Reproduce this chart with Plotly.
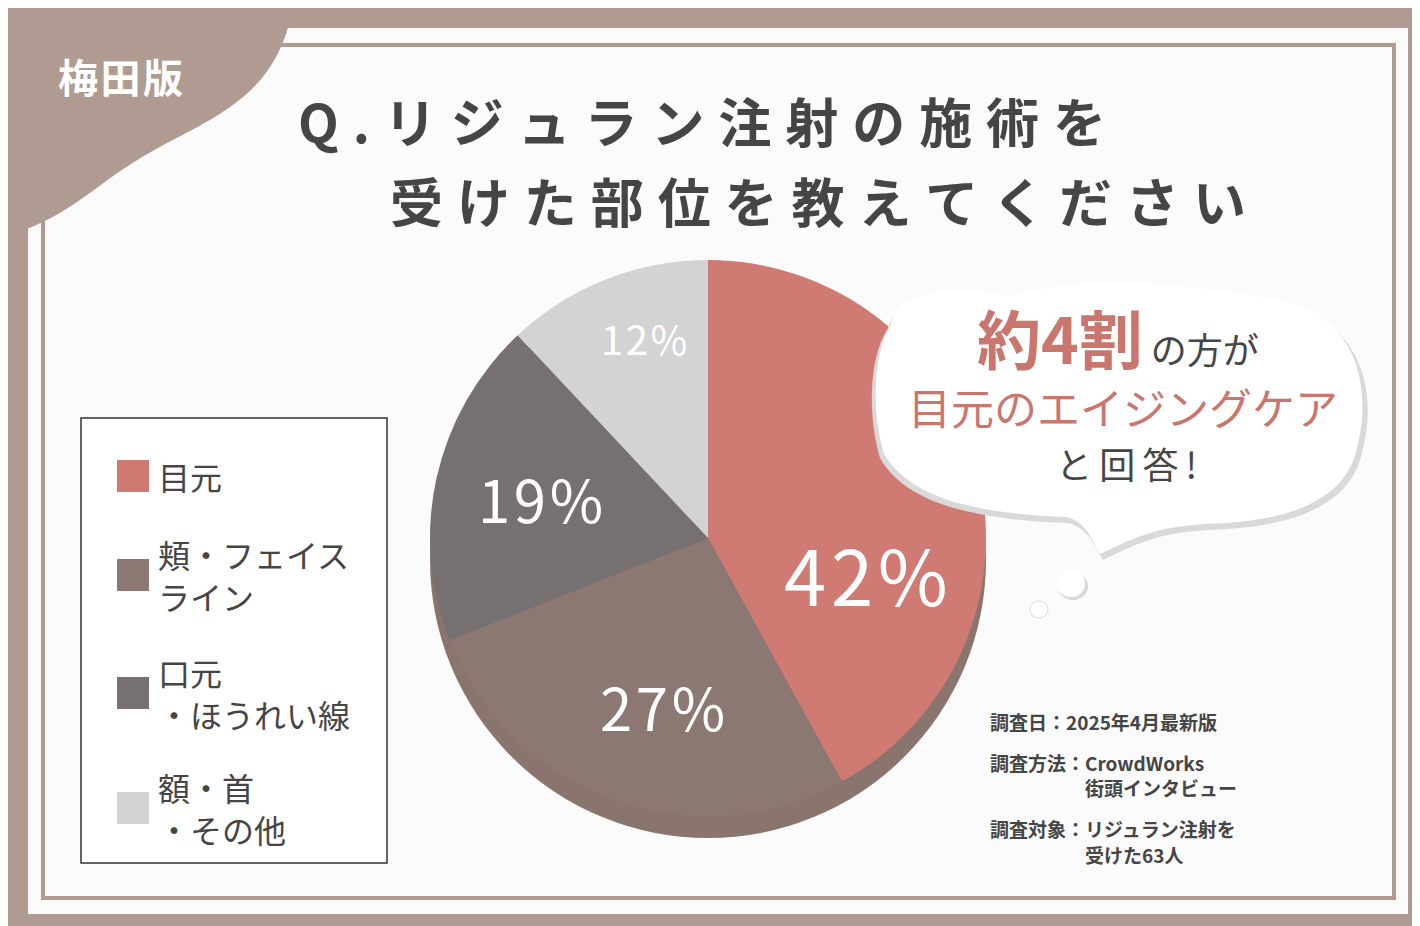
import plotly.graph_objects as go

labels = ["目元", "頬・フェイスライン", "口元・ほうれい線", "額・首・その他"]
values = [42, 27, 19, 12]
colors = ["#cf7a73", "#8c7873", "#767170", "#d3d3d3"]
legend_text = ["目元", "頬・フェイス<br>ライン", "口元<br>・ほうれい線", "額・首<br>・その他"]
pct_text = ["42%", "27%", "19%", "12%"]

W, H = 1420, 926
BROWN = "#b09b92"
DARK = "#454545"
FONT = "Noto Sans CJK JP"


def spaced(s, sp="\u2009"):
    return sp.join(list(s))


fig = go.Figure()

# pie (domain in paper fractions from pixel box)
cx, cy, r = 700, 530, 278
fig.add_trace(go.Pie(
    values=values, labels=labels, sort=False, direction="clockwise", rotation=0,
    marker=dict(colors=colors, line=dict(width=0)), textinfo="none", hoverinfo="label+percent",
    domain=dict(x=[(cx - r) / W, (cx + r) / W], y=[1 - (cy + r) / H, 1 - (cy - r) / H]),
    showlegend=False,
))
# hidden scatter to fix axes
fig.add_trace(go.Scatter(x=[0, W], y=[0, H], mode="markers", marker=dict(opacity=0),
                         showlegend=False, hoverinfo="skip"))

shapes = [
    dict(type="rect", x0=0, y0=0, x1=W, y1=H, fillcolor=BROWN, line_width=0, layer="below"),
    dict(type="rect", x0=20, y0=20, x1=1400, y1=906, fillcolor="#fbfbfb", line_width=0, layer="below"),
    dict(type="rect", x0=35, y0=37, x1=1386, y1=890, line=dict(color=BROWN, width=4), layer="below"),
    # pie 3d shadow
    dict(type="circle", x0=cx - r, y0=cy - r + 22, x1=cx + r, y1=cy + r + 22,
         fillcolor="#8a756e", line_width=0, layer="below"),
    # top-left blob
    dict(type="path", path="M 0,0 L 285,0 C 268,85 215,105 150,140 C 85,175 70,205 0,228 Z",
         fillcolor=BROWN, line_width=0),
    # legend box
    dict(type="rect", x0=73, y0=410, x1=379, y1=855, fillcolor="white",
         line=dict(color="#333", width=1.5), layer="below"),
    # speech bubble shadow + body
    dict(type="path", path="M 880,320 C 890,280 960,285 1000,292 C 1080,270 1200,280 1290,300 "
         "C 1350,320 1370,380 1355,440 C 1345,500 1280,520 1200,522 C 1150,525 1130,535 1095,552 "
         "C 1085,535 1080,520 1060,515 C 980,512 900,500 872,450 C 860,410 860,350 880,320 Z",
         fillcolor="#d9d9d9", line_width=0),
    dict(type="path", path="M 882,318 C 892,276 960,280 1000,288 C 1080,266 1200,276 1288,296 "
         "C 1346,316 1364,376 1350,436 C 1340,494 1278,514 1198,516 C 1148,519 1128,529 1092,546 "
         "C 1082,529 1078,514 1058,509 C 980,506 904,494 876,446 C 864,406 864,350 882,318 Z",
         fillcolor="white", line_width=0),
    dict(type="circle", x0=1050, y0=565, x1=1080, y1=592, fillcolor="#d9d9d9", line_width=0),
    dict(type="circle", x0=1049, y0=563, x1=1077, y1=589, fillcolor="white", line_width=0),
    dict(type="circle", x0=1022, y0=593, x1=1040, y1=610, fillcolor="white",
         line=dict(color="#dcdcdc", width=1)),
]

ann = []


def txt(x, y, t, size, color=DARK, anchor="left", bold=False):
    ann.append(dict(x=x, y=y, xref="x", yref="y", text=f"<b>{t}</b>" if bold else t,
                    showarrow=False, xanchor=anchor, yanchor="middle", align="left",
                    font=dict(family=FONT, size=size, color=color)))


txt(112, 68, spaced("梅田版", "\u200a"), 40, "white", "center", True)
txt(288, 112, spaced("Q.リジュラン注射の施術を", "\u2009\u200a"), 53, DARK, bold=True)
txt(380, 192, spaced("受けた部位を教えてください", "\u2009\u200a"), 53, DARK, bold=True)

# percent labels
pct_pos = [(858, 565, 76), (654, 698, 58), (532, 490, 58), (636, 330, 40)]
for (x, y, s), t in zip(pct_pos, pct_text):
    txt(x, y, spaced(t, "\u200a"), s, "white", "center")

# legend entries
leg_y = [468, 567, 685, 800]
for yy, c, t in zip(leg_y, colors, legend_text):
    shapes.append(dict(type="rect", x0=109, y0=yy - 16, x1=141, y1=yy + 16, fillcolor=c, line_width=0))
    txt(148, yy, t, 32, DARK)

# bubble text
ann.append(dict(x=1110, y=328, xref="x", yref="y", showarrow=False, xanchor="center", yanchor="middle",
                text="<span style='font-size:64px;color:#c9766f'><b>約4割</b></span>"
                     "<span style='font-size:36px;color:#454545'> の方が</span>",
                font=dict(family=FONT)))
txt(1115, 398, "目元のエイジングケア", 43, "#c9766f", "center")
txt(1118, 455, spaced("と回答!"), 36, DARK, "center")

# survey notes
notes = [(713, "調査日：2025年4月最新版"), (754, "調査方法：CrowdWorks"), (779, "　　　　　街頭インタビュー"),
         (820, "調査対象：リジュラン注射を"), (846, "　　　　　受けた63人")]
for yy, t in notes:
    txt(980, yy, t, 19, DARK, bold=True)

fig.update_layout(
    width=W, height=H, margin=dict(l=0, r=0, t=0, b=0),
    paper_bgcolor=BROWN, plot_bgcolor="rgba(0,0,0,0)",
    xaxis=dict(range=[0, W], visible=False, fixedrange=True),
    yaxis=dict(range=[H, 0], visible=False, fixedrange=True),
    shapes=shapes, annotations=ann, showlegend=False,
)
fig.write_html("out.html")
